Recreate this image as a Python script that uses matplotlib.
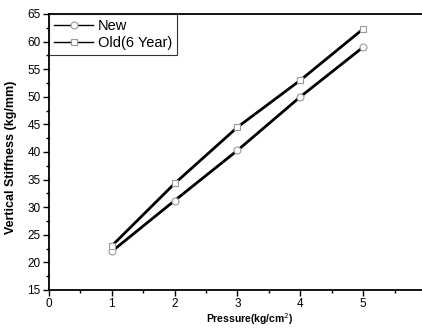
import matplotlib
matplotlib.use('Agg')
import matplotlib.pyplot as plt

plt.rcParams['font.family'] = ['Liberation Sans', 'DejaVu Sans']

# values
pressure = [1, 2, 3, 4, 5]
stiff_new = [22.0, 31.2, 40.3, 50.0, 59.0]
stiff_old = [23.0, 34.3, 44.5, 53.0, 62.3]

fig = plt.figure(figsize=(4.22, 3.28), dpi=100)
ax = fig.add_axes([49 / 422, 38 / 328, 377 / 422, 276 / 328])

ax.plot(pressure, stiff_new, color='black', lw=2.0, marker='o', ms=5,
        mfc='white', mec='#999999', mew=0.8, label='New')
ax.plot(pressure, stiff_old, color='black', lw=2.0, marker='s', ms=4.8,
        mfc='white', mec='#999999', mew=0.8, label='Old(6 Year)')

ax.set_xlim(0, 6)
ax.set_ylim(15, 65)
ax.set_xticks(range(0, 7))
ax.set_yticks(range(15, 66, 5))
ax.set_xticks([0.5 + i for i in range(6)], minor=True)
ax.set_yticks([17.5 + 5 * i for i in range(10)], minor=True)
ax.tick_params(which='major', direction='out', length=4, width=1, labelsize=8.5, pad=2)
ax.tick_params(which='minor', direction='out', length=2, width=1)

for s in ax.spines.values():
    s.set_linewidth(1.3)

ax.set_xlabel('Pressure(kg/cm$^2$)', fontsize=7.5, fontweight='bold')
ax.xaxis.set_label_coords(0.533, -0.078)
ax.set_ylabel('Vertical Stiffness (kg/mm)', fontsize=9, fontweight='bold')
ax.yaxis.set_label_coords(-0.085, 0.48)

leg = ax.legend(loc='upper left', fontsize=10.5, frameon=True, fancybox=False,
                edgecolor='black', borderaxespad=0.0, handlelength=2.7,
                handletextpad=0.3, borderpad=0.35, labelspacing=0.2)
leg.get_frame().set_linewidth(0.8)
for h in leg.get_lines():
    h.set_linewidth(1.0)

fig.savefig('out.png', dpi=100)
